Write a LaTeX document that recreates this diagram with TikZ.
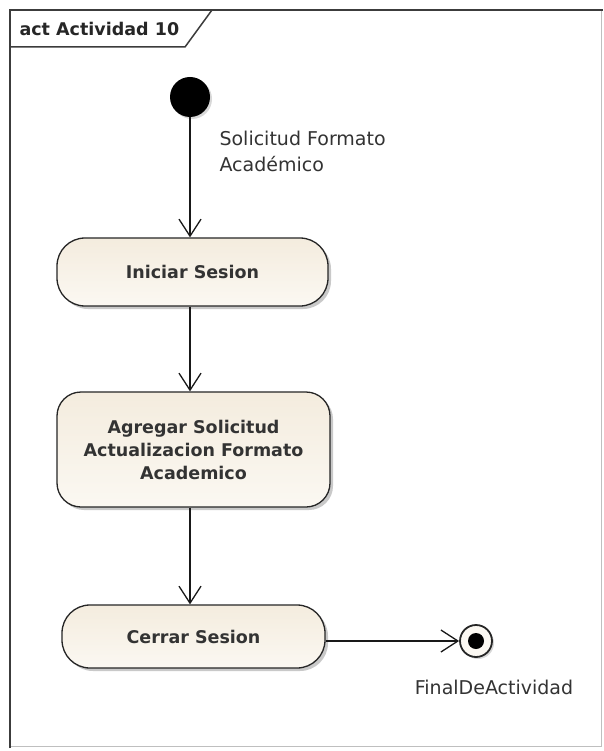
\documentclass[tikz,border=0pt]{standalone}
\usepackage{fontspec}
\setmainfont{DejaVu Sans}
\usetikzlibrary{arrows.meta,shadows,positioning}
\definecolor{actfill}{RGB}{244,236,222}
\definecolor{actfill2}{RGB}{251,248,242}
\definecolor{edgegray}{RGB}{60,60,60}
\begin{document}
\begin{tikzpicture}[x=1pt,y=-1pt,
  action/.style={draw=black!85, line width=1.3pt, rounded corners=28pt,
    top color=actfill, bottom color=actfill2, align=center,
    font=\fontsize{17.5}{23}\selectfont\bfseries, text=black!80,
    drop shadow={shadow xshift=3pt, shadow yshift=-3pt, fill=black!35, opacity=0.6}},
  flow/.style={line width=1.3pt, draw=black!90,
    -{Straight Barb[length=17pt,width=22pt,line width=1.3pt]}},
  lbl/.style={font=\fontsize{19}{26}\selectfont, text=black!80, align=left}
]
\useasboundingbox (0,0) rectangle (603,751);
\fill[white] (0,0) rectangle (603,751);

% frame
\draw[black!25, line width=1pt] (601,10) -- (601,746) -- (10,746);
\draw[edgegray, line width=2pt] (10,748) -- (10,10) -- (603,10);
\draw[edgegray, line width=1.5pt] (10,47) -- (185,47) -- (212,10);
\node[anchor=west, font=\fontsize{17.5}{20}\selectfont\bfseries, text=black!85]
  (title) at (16,29) {act Actividad 10};

% initial node
\node[circle, fill=black, minimum size=40pt, inner sep=0pt,
  drop shadow={shadow xshift=2pt, shadow yshift=-2pt, fill=black!30, opacity=0.5}]
  (start) at (190,97) {};

% actions
\node[action, minimum width=271pt, minimum height=68pt] (iniciar) at (192.5,272) {Iniciar Sesion};
\node[action, rounded corners=24pt, minimum width=273pt, minimum height=115pt] (agregar) at (193.5,449.5)
  {Agregar Solicitud\\Actualizacion Formato\\Academico};
\node[action, minimum width=263pt, minimum height=63pt] (cerrar) at (193.5,636.5) {Cerrar Sesion};

% final node
\node[circle, draw=black!85, line width=1.8pt, fill=actfill2, minimum size=32pt, inner sep=0pt,
  drop shadow={shadow xshift=2pt, shadow yshift=-2pt, fill=black!30, opacity=0.5}]
  (fin) at (476,641) {};
\fill[black] (fin.center) circle (8pt);

% flows
\draw[flow] (start) -- (start |- iniciar.north);
\draw[flow] (start |- iniciar.south) -- (start |- agregar.north);
\draw[flow] (start |- agregar.south) -- (start |- cerrar.north);
\draw[flow] (cerrar.east |- fin) -- (fin.west);

% labels
\node[lbl, anchor=north west] (trig) at (216,128) {Solicitud Formato\\Académico};
\node[lbl, anchor=north] (finlbl) at (494,677) {FinalDeActividad};
\end{tikzpicture}
\end{document}
